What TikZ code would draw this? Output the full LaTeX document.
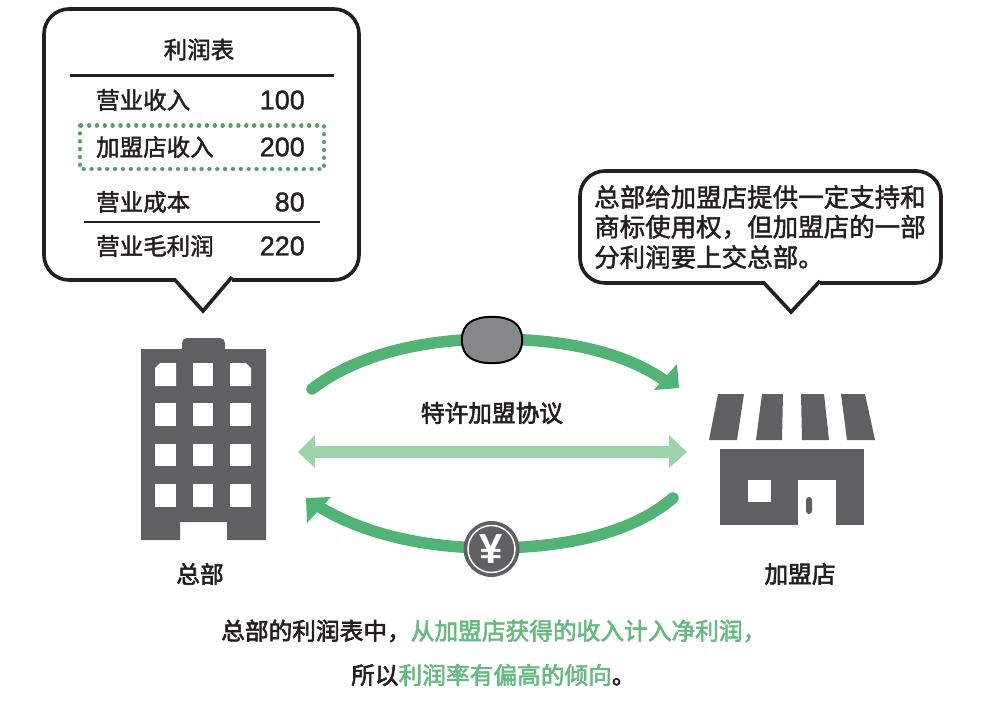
\documentclass[tikz,border=0pt]{standalone}
\usepackage{fontspec}
\setmainfont[FakeBold=1.7]{Noto Sans CJK SC}
\newfontfamily\cjkb[FakeBold=2.5]{Noto Sans CJK SC}
\newfontfamily\numf[FakeBold=1.1]{Liberation Sans}
\newfontfamily\yenf{Liberation Sans}
\definecolor{dk}{HTML}{5F6062}
\definecolor{gr}{HTML}{52B376}
\definecolor{lg}{HTML}{9DD3A9}
\definecolor{tg}{HTML}{66BA80}
\definecolor{tx}{HTML}{231F20}
\newcommand{\fs}[1]{\fontsize{#1}{#1}\selectfont}
\tikzset{
  lbl/.style={inner sep=0pt,text=tx,font=\fs{23.5}},
  num/.style={inner sep=0pt,text=tx,anchor=east,font=\numf\fs{27}},
  rowl/.style={lbl,anchor=west},
  note/.style={inner sep=0pt,text=tx,anchor=west,font=\fs{25.5}},
  say/.style={inner sep=0pt,text=tx,font=\cjkb\fs{23.7}},
  bubble/.style={draw=tx,line width=3.6pt,fill=white,line join=miter},
  arc/.style={draw=gr,line width=11.5pt},
  pict/.style={fill=dk,draw=none},
  hole/.style={fill=white,draw=none}
}
\begin{document}
\begin{tikzpicture}[x=1pt,y=-1pt]
\useasboundingbox (0,0) rectangle (983,701);
% left bubble
\path[bubble] (232,280) [rounded corners=25pt] -- (359,280) -- (359,9) -- (44,9) -- (44,280) [sharp corners] -- (175,280) -- (203,311) -- (232,277);
\node[lbl] (title) at (199,49.5) {利润表};
\draw[tx,line width=3pt] (70,76) -- (334,76);
\node[rowl] (r1) at (96,100) {营业收入};
\node[num] (n1) at (305,100) {100};
\node[rowl] (r2) at (96,147) {加盟店收入};
\node[num] (n2) at (305,147) {200};
\node[rowl] (r3) at (96,202) {营业成本};
\node[num] (n3) at (305,202) {80};
\draw[tx,line width=1.5pt] (84,222) -- (320,222);
\node[rowl] (r4) at (96,246) {营业毛利润};
\node[num] (n4) at (305,246) {220};
\draw[tg!85!black,line width=4.4pt,line cap=round,dash pattern=on 0.01pt off 7.85pt] (80,125.5) rectangle (324,169);
% right bubble
\path[bubble] (820,283) [rounded corners=25pt] -- (941,283) -- (941,171) -- (580,171) -- (580,283) [sharp corners] -- (764,283) -- (791,312) -- (820,281);
\node[note] (t1) at (594,197) {总部给加盟店提供一定支持和};
\node[note] (t2) at (594,227) {商标使用权，但加盟店的一部};
\node[note] (t3) at (594,257) {分利润要上交总部。};
% building
\fill[pict] (141,349) -- (182,349) -- (182,343) [rounded corners=5pt] -- (182,338) -- (225,338) [sharp corners] -- (225,349) -- (266,349) -- (266,540) -- (227,540) -- (227,522) -- (180,522) -- (180,540) -- (141,540) -- cycle;
\fill[hole] (155,368) -- (160,363) -- (176,363) -- (176,386) -- (155,386) -- cycle;
\fill[hole] (193,363) rectangle (213,386);
\fill[hole] (230,363) -- (246,363) -- (251,368) -- (251,386) -- (230,386) -- cycle;
\foreach \yy/\yz in {403/426,444/466,484/507}{
  \fill[hole] (155,\yy) rectangle (176,\yz);
  \fill[hole] (193,\yy) rectangle (213,\yz);
  \fill[hole] (230,\yy) rectangle (251,\yz);
}
\node[say] (hq) at (200,574) {总部};
% shop
\fill[pict] (718,394) -- (744,394) -- (737,440) -- (709,440) -- cycle;
\fill[pict] (762,394) -- (783,394) -- (782,440) -- (756,440) -- cycle;
\fill[pict] (801,394) -- (824,394) -- (829,440) -- (802,440) -- cycle;
\fill[pict] (841,394) -- (865,394) -- (875,440) -- (847,440) -- cycle;
\fill[pict] (720,449) rectangle (864,525);
\fill[hole] (748,480) rectangle (771,502);
\fill[hole] (798,480) rectangle (836,525);
\fill[pict,rounded corners=3pt] (806,497) rectangle (812,514);
\node[say] (shop) at (800,574) {加盟店};
% coordinates
\coordinate (topstart) at (312,389);
\coordinate (topmid) at (492,339);
\coordinate (topend) at (664,380);
\coordinate (botstart) at (673,498);
\coordinate (botmid) at (491.5,548);
\coordinate (botend) at (318,506);
\coordinate (midl) at (298,452);
\coordinate (midr) at (687,452);
% arcs
\draw[arc,line cap=round] (topstart) .. controls (360,352) and (430,339) .. (topmid);
\draw[arc] (topmid) .. controls (560,339) and (620,350) .. (topend);
\fill[gr] (677,364) -- (679,388) -- (654,390) -- cycle;
\draw[arc,line cap=round] (botstart) .. controls (630,535) and (560,548) .. (botmid);
\draw[arc] (botmid) .. controls (420,548) and (360,532) .. (botend);
\fill[gr] (306,498) -- (331,497) -- (307,523) -- cycle;
\fill[lg] (midl) -- (315,435) -- (315,446) -- (669,446) -- (669,435) -- (midr) -- (669,468) -- (669,458) -- (315,458) -- (315,468) -- cycle;
\node[say] (agree) at (492,413) {特许加盟协议};
% coins
\node[minimum width=60pt,minimum height=46pt,inner sep=0pt] (coin) at (492,340) {};
\draw[black,line width=2pt,fill=dk!75!white] (coin.west) .. controls (462,323) and (474,317) .. (coin.north) .. controls (510,317) and (522,323) .. (coin.east) .. controls (522,357) and (510,363) .. (coin.south) .. controls (474,363) and (462,357) .. (coin.west) -- cycle;
\node[circle,fill=dk,minimum size=56pt,inner sep=0pt] (yen) at (491.5,549) {};
\draw[white,line width=1.5pt] (yen) circle (23.5pt);
\node[inner sep=0pt,text=white,font=\yenf\bfseries\fs{42}] (yensym) at (yen) {¥};
% caption
\node[inner sep=0pt,anchor=west,text=tx,font=\cjkb\fs{23.7}] (c1) at (221,631) {总部的利润表中，\textcolor{tg}{从加盟店获得的收入计入净利润，}};
\node[inner sep=0pt,anchor=west,text=tx,font=\cjkb\fs{23.7}] (c2) at (351,675) {所以\textcolor{tg}{利润率有偏高的倾向}。};
\end{tikzpicture}
\end{document}
